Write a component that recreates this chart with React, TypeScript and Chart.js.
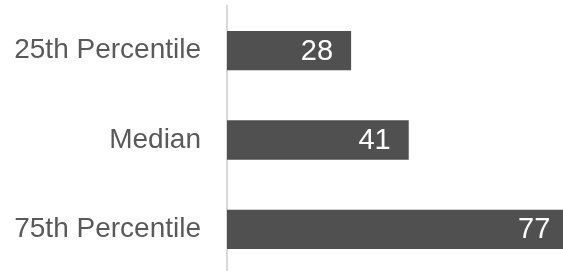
import React, { useEffect, useRef } from "react";
import { Chart, registerables } from "chart.js";

Chart.register(...registerables);

const categories = ["25th Percentile", "Median", "75th Percentile"];
const values = [28, 41, 77];

const valueLabelPlugin = {
  id: "valueLabels",
  afterDatasetsDraw(chart: any) {
    const ctx = chart.ctx;
    const meta = chart.getDatasetMeta(0);
    ctx.save();
    ctx.font = "29px 'Liberation Sans', Arial, sans-serif";
    ctx.fillStyle = "#ffffff";
    ctx.textAlign = "right";
    ctx.textBaseline = "middle";
    meta.data.forEach((bar: any, i: number) => {
      ctx.fillText(String(values[i]), bar.x - 18, bar.y + 1);
    });
    ctx.restore();
  },
};

export default function App() {
  const ref = useRef<HTMLCanvasElement>(null);
  useEffect(() => {
    document.body.style.margin = "0";
    const chart = new Chart(ref.current!, {
      type: "bar",
      data: {
        labels: categories,
        datasets: [
          {
            data: values,
            backgroundColor: "#505050",
            borderWidth: 0,
            categoryPercentage: 1,
            barPercentage: 0.44,
          },
        ],
      },
      options: {
        indexAxis: "y",
        animation: false,
        responsive: true,
        maintainAspectRatio: false,
        layout: { padding: { top: 6, bottom: 6, right: 0, left: 0 } },
        plugins: { legend: { display: false }, tooltip: { enabled: false } },
        scales: {
          x: { display: false, min: 0, max: 75.8 },
          y: {
            grid: {
              display: true,
              drawOnChartArea: false,
              drawTicks: true,
              tickLength: 26,
              color: "rgba(0,0,0,0)",
            },
            border: { display: true, color: "#d9d9d9", width: 2 },
            ticks: {
              color: "#595959",
              padding: 0,
              font: { family: "'Liberation Sans', Arial, sans-serif", size: 28, lineHeight: 0.4 },
            },
            afterFit(scale: any) {
              scale.width = 227;
            },
          },
        },
      },
      plugins: [valueLabelPlugin],
    });
    return () => chart.destroy();
  }, []);
  return (
    <div style={{ position: "absolute", left: 0, top: 0, width: 563, height: 280 }}>
      <canvas ref={ref} />
    </div>
  );
}
